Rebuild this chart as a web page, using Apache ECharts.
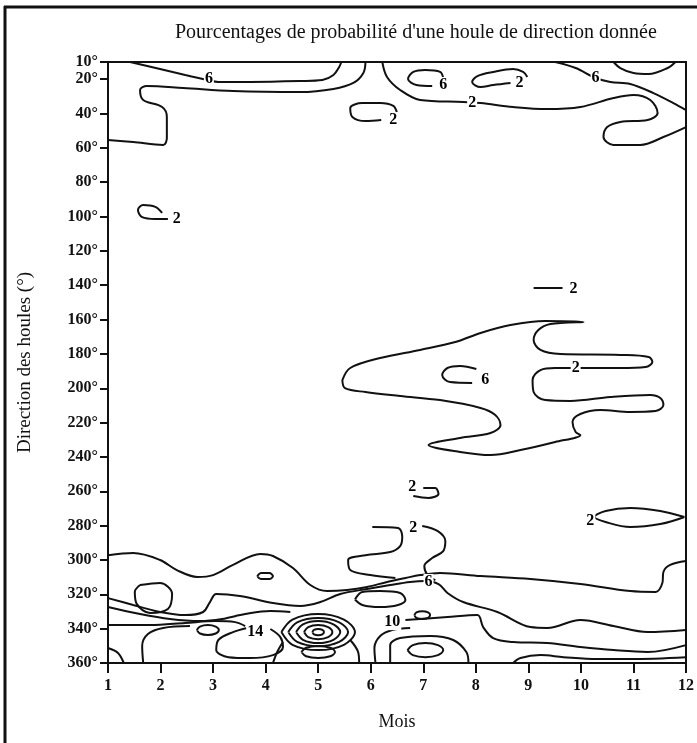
<!DOCTYPE html>
<html>
<head>
<meta charset="utf-8">
<script src="https://cdn.jsdelivr.net/npm/echarts@6/dist/echarts.min.js"></script>
<style>
html,body{margin:0;padding:0;background:#fff;}
#chart{width:697px;height:743px;}
</style>
</head>
<body>
<div id="chart"></div>
<script>
// ---------- axis ticks ----------
const months = [1,2,3,4,5,6,7,8,9,10,11,12];
const directionTicks = [10,20,40,60,80,100,120,140,160,180,200,220,240,260,280,300,320,340,360];

// ---------- contour lines: [month, direction °] ----------
const top6Left = [[1.42,10],[1.99,14.1],[2.47,17.6],[2.90,20.5],[3.10,21.6],[3.70,21.6],[4.66,21.1],[5.08,20.5],[5.29,17.6],[5.40,12.9],[5.44,10]];
const top2Left = [[5.90,10],[5.86,16.4],[5.67,22.2],[5.29,25.7],[4.66,27.5],[3.38,26.9],[2.43,25.1],[1.74,24.0],[1.61,26.3],[1.67,32.1],[2.03,36.2],[2.12,42.0],[2.12,54.3],[2.05,58.3],[1.48,56.6],[1.00,55.4]];
const top2Right = [[6.22,10],[6.31,18.7],[6.56,26.3],[6.94,32.1],[7.76,33.3],[8.09,33.9],[8.71,36.2],[9.36,37.4],[9.99,36.2],[10.62,31.0],[11.00,29.2],[11.32,32.1],[11.46,39.7],[11.27,43.8],[10.75,44.9],[10.50,47.9],[10.43,53.7],[10.62,58.3],[11.13,58.3],[11.57,53.7],[12,47.9]];
const top6Right = [[9.51,10],[9.90,13.5],[10.28,19.3],[10.56,21.6],[10.94,22.8],[11.38,28.1],[11.76,33.9],[12,38.0]];
const topArc = [[10.62,10],[10.75,13.5],[11.00,16.4],[11.29,17.0],[11.65,13.5],[11.80,10]];
const loop6Small = [[7.38,19.3],[7.32,15.8],[7.04,14.7],[6.81,15.8],[6.71,19.9],[6.87,23.4],[7.17,24.0]];
const loop2Long = [[8.98,18.7],[8.90,15.8],[8.71,14.1],[8.33,15.8],[8.03,18.2],[7.93,21.6],[8.09,24.6],[8.33,23.4],[8.66,22.2]];
const loop2At40 = [[6.50,39.7],[6.43,35.6],[6.18,33.9],[5.84,33.9],[5.61,36.8],[5.65,42.0],[5.90,44.4],[6.20,43.8]];
const loop2At100 = [[2.03,97.9],[1.90,94.4],[1.67,93.3],[1.57,96.2],[1.65,100.3],[1.90,101.4],[2.14,101.4]];
const dash2At140 = [[9.10,141.6],[9.65,141.6]];
const hand2 = [[5.46,195.2],[5.61,188.2],[6.18,182.4],[6.94,177.7],[7.61,173.1],[8.09,167.8],[8.66,163.2],[9.32,160.8],[10.05,161.4],[9.42,162.6],[9.19,166.1],[9.10,171.9],[9.23,177.7],[9.61,180.1],[10.75,180.6],[11.29,181.8],[11.36,184.7],[11.23,187.6],[10.75,188.2],[9.51,188.2],[9.23,189.4],[9.08,195.2],[9.10,202.2],[9.32,206.9],[9.80,207.4],[10.56,205.1],[11.32,203.9],[11.51,205.7],[11.57,209.8],[11.42,213.3],[10.94,213.8],[10.37,212.7],[9.99,215.0],[9.84,219.7],[9.90,225.5],[9.99,227.2],[9.51,231.3],[8.85,236.0],[8.28,238.9],[7.70,237.1],[7.10,233.1],[7.70,229.0],[8.28,226.1],[8.47,221.4],[8.37,215.6],[8.09,211.5],[7.32,206.9],[6.56,204.5],[5.90,202.2],[5.51,199.9],[5.46,195.2]];
const loop6Hand = [[8.01,188.8],[7.70,187.0],[7.46,188.2],[7.36,192.3],[7.51,196.4],[7.93,196.9]];
const loop2At260 = [[6.81,262.8],[7.10,263.9],[7.29,261.6],[7.23,258.1],[7.00,258.1]];
const lens2 = [[11.97,275.0],[11.51,271.5],[10.94,269.8],[10.47,271.5],[10.26,275.0],[10.47,277.9],[10.94,280.8],[11.51,279.1],[11.97,275.0]];
const branch2Left = [[6.03,280.8],[6.52,281.4],[6.60,286.6],[6.56,291.9],[6.37,295.4],[5.90,297.2],[5.57,300.0],[5.61,305.9],[5.99,308.8],[6.47,310.5]];
const branch2Right = [[6.98,280.2],[7.27,283.1],[7.42,289.0],[7.38,294.8],[7.17,298.9],[7.02,303.5],[7.08,308.8],[7.23,311.7]];
const line6 = [[1.00,297.2],[1.48,296.0],[1.99,300.0],[2.31,305.9],[2.70,309.9],[3.00,308.8],[3.38,302.9],[3.90,296.5],[4.14,297.7],[4.52,304.7],[4.85,314.6],[5.17,318.1],[5.55,317.5],[5.93,315.7],[6.31,312.8],[6.66,310.5],[6.94,308.8],[7.32,307.6],[8.09,309.4],[9.04,311.1],[9.99,314.0],[10.94,318.1],[11.42,318.6],[11.55,313.4],[11.57,307.0],[11.70,302.9],[12,300.6]];
const ovalAt4 = [[3.84,309.4],[3.91,307.6],[4.07,307.6],[4.14,309.4],[4.07,311.1],[3.91,311.1],[3.84,309.4]];
const loopAt2 = [[1.61,314.6],[1.99,313.4],[2.22,319.8],[2.14,328.6],[1.80,330.9],[1.55,325.7],[1.51,318.6],[1.61,314.6]];
const lineB = [[1.00,322.2],[1.48,326.2],[1.99,330.3],[2.47,332.1],[2.81,330.3],[2.94,324.5],[3.06,319.8],[3.51,321.0],[4.14,325.1],[4.66,326.8],[5.04,324.5],[5.42,319.8],[5.93,316.9],[6.37,314.6],[6.75,312.8],[7.04,312.2],[7.29,314.0],[7.46,319.2],[7.76,324.5],[8.41,330.3],[9.04,339.1],[9.36,339.6],[9.99,335.0],[10.62,338.5],[11.27,342.0],[12,340.8]];
const loopAt6 = [[5.70,323.0],[5.84,318.6],[6.18,318.1],[6.56,319.2],[6.66,323.3],[6.52,326.2],[6.18,327.4],[5.84,326.2],[5.70,323.0]];
const bundle1 = [[1,327.4],[1.61,331.5],[2.18,334.4],[2.75,335.6],[3.17,334.4],[3.61,331.5],[4.09,329.7],[4.47,330.3]];
const bundle2 = [[1,337.9],[1.80,337.9],[2.47,336.7],[3.04,335.6],[3.42,336.2],[3.61,338.5]];
const bundle3 = [[1.67,360],[1.65,350.1],[1.76,343.1],[2.05,339.6],[2.56,338.5]];
const ovalAt3 = [[2.69,340.8],[2.75,338.8],[2.90,337.9],[3.05,338.8],[3.11,340.8],[3.05,342.8],[2.90,343.7],[2.75,342.8],[2.69,340.8]];
const loop14 = [[3.65,339.6],[3.38,342.0],[3.10,346.6],[3.06,352.5],[3.29,356.6],[3.70,357.1],[4.14,355.4],[4.33,350.7],[4.28,344.9],[4.09,340.2]];
const ring1 = [[4.89,342],[4.92,340.7],[5,340.2],[5.08,340.7],[5.11,342],[5.08,343.3],[5,343.8],[4.92,343.3],[4.89,342]];
const ring2 = [[4.73,342],[4.81,339.1],[5,337.9],[5.19,339.1],[5.27,342],[5.19,344.9],[5,346.1],[4.81,344.9],[4.73,342]];
const ring3 = [[4.58,342],[4.71,337.5],[5,335.6],[5.29,337.5],[5.42,342],[5.29,346.5],[5,348.4],[4.71,346.5],[4.58,342]];
const ring4 = [[4.43,342],[4.60,336.3],[5,333.8],[5.40,336.3],[5.57,342],[5.40,347.7],[5,350.2],[4.60,347.7],[4.43,342]];
const ring5 = [[4.30,342],[4.51,334.7],[5,331.5],[5.49,334.7],[5.70,342],[5.49,349.4],[5,352.5],[4.51,349.4],[4.30,342]];
const blobAt5 = [[4.68,353.6],[4.77,351.1],[5,350.1],[5.23,351.1],[5.32,353.6],[5.23,356.1],[5,357.1],[4.77,356.1],[4.68,353.6]];
const legLeft5 = [[4.33,347.8],[4.22,353.6],[4.14,360]];
const legRight5 = [[5.61,346.6],[5.76,353.6],[5.78,360]];
const ovalAt7 = [[6.70,352.5],[6.80,349.6],[7.04,348.4],[7.28,349.6],[7.38,352.5],[7.28,355.4],[7.04,356.6],[6.80,355.4],[6.70,352.5]];
const archAt7 = [[6.37,360],[6.37,349.6],[6.56,345.5],[7.13,344.3],[7.57,346.6],[7.82,353.6],[7.86,360]];
const arcAt6 = [[6.09,360],[6.07,351.3],[6.18,344.3],[6.41,340.8],[6.75,339.6]];
const line10 = [[6.66,335.0],[7.46,333.2],[8.03,332.1],[8.14,339.1],[8.33,345.5],[8.71,347.8],[9.36,348.4],[9.99,350.7],[10.62,352.5],[11.27,353.6],[12,349.6]];
const ovalAt7b = [[6.83,332.1],[6.87,330.5],[6.98,329.8],[7.09,330.5],[7.13,332.1],[7.09,333.7],[6.98,334.4],[6.87,333.7],[6.83,332.1]];
const lineBottom = [[8.71,360],[8.85,357.1],[9.23,355.4],[9.67,356.6],[10.31,357.7],[10.94,357.7],[12,356.6]];
const cornerArc = [[1,351.3],[1.19,354.2],[1.30,360]];

const contours = [top6Left, top2Left, top2Right, top6Right, topArc, loop6Small, loop2Long, loop2At40,
  loop2At100, dash2At140, hand2, loop6Hand, loop2At260, lens2, branch2Left, branch2Right, line6, ovalAt4,
  loopAt2, lineB, loopAt6, bundle1, bundle2, bundle3, ovalAt3, loop14, ring1, ring2, ring3, ring4, ring5,
  blobAt5, legLeft5, legRight5, ovalAt7, archAt7, arcAt6, line10, ovalAt7b, lineBottom, cornerArc];

// ---------- contour labels: [month, direction, value] ----------
const contourLabels = [
  [2.92,19.6,'6'],[10.28,19.3,'6'],[7.38,23.4,'6'],[8.83,22.2,'2'],[7.93,33.9,'2'],[6.43,43.8,'2'],
  [2.31,101.4,'2'],[9.86,142.2,'2'],[9.90,188.2,'2'],[8.18,195.2,'6'],[6.79,257.5,'2'],[6.81,281.4,'2'],
  [10.18,277.3,'2'],[7.10,312.8,'6'],[6.41,336.2,'10'],[3.80,342.0,'14']
];

const FONT = '"Liberation Serif", "DejaVu Serif", serif';
const INK = '#111111';

const series = contours.map(function (pts) {
  return {
    type: 'line', data: pts, showSymbol: false, smooth: 0.35, silent: true,
    lineStyle: { color: INK, width: 2 }, z: 2
  };
});
series.push({
  type: 'scatter', data: contourLabels, symbolSize: 0, silent: true, z: 5,
  itemStyle: { color: INK, opacity: 1 },
  label: {
    show: true, position: 'inside',
    formatter: function (p) { return p.value[2]; },
    fontFamily: FONT, fontSize: 16, fontWeight: 'bold', color: '#000',
    textBorderWidth: 0, textBorderColor: 'transparent', opacity: 1,
    backgroundColor: '#fff', padding: [0, 1]
  }
});

const chart = echarts.init(document.getElementById('chart'), null, { renderer: 'canvas' });
chart.setOption({
  animation: false,
  backgroundColor: '#fff',
  title: {
    text: "Pourcentages de probabilité d'une houle de direction donnée",
    left: 170, top: 18,
    textStyle: { fontFamily: FONT, fontSize: 20, fontWeight: 'normal', color: INK }
  },
  grid: { left: 108, right: 11, top: 62, bottom: 80, show: true, borderColor: INK, borderWidth: 2, backgroundColor: 'transparent' },
  xAxis: {
    type: 'value', min: 1, max: 12, interval: 1,
    name: 'Mois', nameLocation: 'middle', nameGap: 50,
    nameTextStyle: { fontFamily: FONT, fontSize: 18, color: INK },
    axisLine: { show: true, lineStyle: { color: INK, width: 2 } },
    axisTick: { show: true, length: 10, inside: false, lineStyle: { color: INK, width: 2 } },
    axisLabel: { fontFamily: FONT, fontSize: 16, fontWeight: 'bold', color: INK, margin: 15,
      formatter: function (v) { return months.indexOf(v) >= 0 ? String(v) : ''; } },
    splitLine: { show: false }
  },
  yAxis: {
    type: 'value', inverse: true, min: 10, max: 360,
    name: 'Direction des houles (°)', nameLocation: 'middle', nameGap: 73, nameRotate: 90,
    nameTextStyle: { fontFamily: FONT, fontSize: 19, color: INK },
    axisLine: { show: true, lineStyle: { color: INK, width: 2 } },
    axisTick: { show: true, length: 8, customValues: directionTicks, lineStyle: { color: INK, width: 2 } },
    axisLabel: { customValues: directionTicks, fontFamily: FONT, fontSize: 16, fontWeight: 'bold', color: INK, margin: 10,
      formatter: function (v) { return v + '°'; } },
    splitLine: { show: false }
  },
  graphic: [
    { type: 'line', shape: { x1: 4, y1: 7, x2: 697, y2: 7 }, style: { stroke: '#111', lineWidth: 3 }, silent: true },
    { type: 'line', shape: { x1: 5, y1: 6, x2: 5, y2: 743 }, style: { stroke: '#111', lineWidth: 3 }, silent: true }
  ],
  series: series
});
</script>
</body>
</html>
